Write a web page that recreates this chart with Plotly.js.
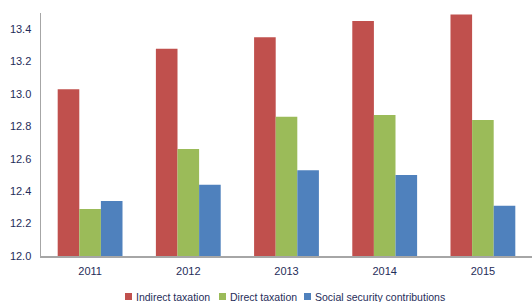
<!DOCTYPE html>
<html><head><meta charset="utf-8">
<script src="https://cdn.plot.ly/plotly-3.0.1.min.js"></script>
<style>html,body{margin:0;padding:0;background:#fff}#c{width:532px;height:302px}</style>
</head><body><div id="c"></div>
<script>
var years = ['2011','2012','2013','2014','2015'];
var indirect = [13.03, 13.28, 13.35, 13.45, 13.49];
var direct = [12.29, 12.66, 12.86, 12.87, 12.84];
var social = [12.34, 12.44, 12.53, 12.50, 12.31];
var names = ['Indirect taxation','Direct taxation','Social security contributions'];
var colors = ['#C0504D','#9BBB59','#4F81BD'];
var series = [indirect, direct, social];
var fnt = "'Liberation Sans Narrow','Arial Narrow','Liberation Sans',Arial,sans-serif";
var data = series.map(function(s,i){
  return {type:'bar', x:years, y:s, name:names[i], marker:{color:colors[i], line:{width:0}}};
});
// custom legend placement (pixels -> paper)
var L = 41, W = 491, B = 256, H = 243;
function px(x){ return (x - L) / W; }
function py(y){ return (B - y) / H; }
var legX = [125, 219, 304];
var shapes = [], annotations = [];
names.forEach(function(n,i){
  shapes.push({type:'rect', xref:'paper', yref:'paper', x0:px(legX[i]), x1:px(legX[i]+7), y0:py(300), y1:py(293), fillcolor:colors[i], line:{width:0}});
  annotations.push({xref:'paper', yref:'paper', x:px(legX[i]+9), y:py(297), xanchor:'left', yanchor:'middle', text:n, showarrow:false, font:{size:10.5, color:'#1F2D5A'}});
});
var layout = {
  width:532, height:302,
  margin:{l:L, r:0, t:13, b:46, autoexpand:false},
  paper_bgcolor:'#fff', plot_bgcolor:'#fff',
  barmode:'group', bargap:0.34, bargroupgap:0,
  font:{family:fnt, size:11, color:'#1F2D5A'},
  showlegend:false,
  shapes:shapes, annotations:annotations,
  xaxis:{showline:true, linecolor:'#A6A6A6', linewidth:2, ticks:'', showgrid:false, zeroline:false, tickfont:{size:11}, ticklabelstandoff:4},
  yaxis:{range:[12,13.5], tickvals:[12.0,12.2,12.4,12.6,12.8,13.0,13.2,13.4], ticktext:['12.0','12.2','12.4','12.6','12.8','13.0','13.2','13.4'], showline:true, linecolor:'#A6A6A6', linewidth:1.5, ticks:'', showgrid:false, zeroline:false, ticklabelstandoff:6, tickfont:{size:11}}
};
Plotly.newPlot('c', data, layout, {displayModeBar:false, staticPlot:true});
</script></body></html>
